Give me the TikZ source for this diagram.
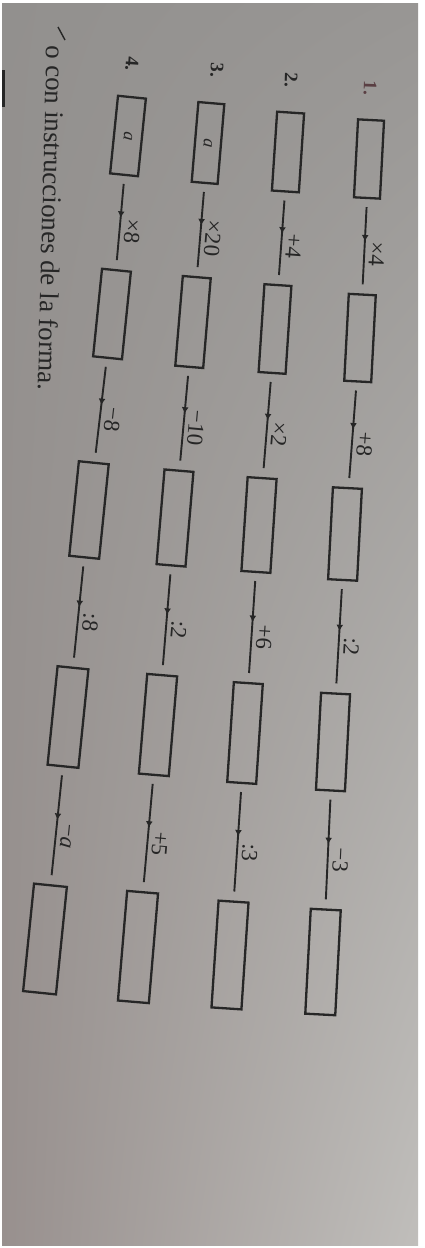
\documentclass[tikz,border=0pt]{standalone}
\usepackage{fontspec}
\setmainfont{Liberation Serif}
\usetikzlibrary{arrows.meta,decorations.markings,shadings}
\definecolor{ink}{HTML}{262626}
\definecolor{numred}{HTML}{5A3F43}
\definecolor{bgUL}{RGB}{146,144,142}
\definecolor{bgUR}{RGB}{152,150,148}
\definecolor{bgLL}{RGB}{152,144,142}
\definecolor{bgLR}{RGB}{192,190,187}
\begin{document}
\begin{tikzpicture}[x=1pt,y=-1pt,
  cell/.style={draw=ink, line width=2.3pt, inner sep=0pt, font=\fontsize{18}{19}\selectfont\itshape, text=ink},
  op/.style={draw=ink, line width=1.9pt, shorten <=8pt, shorten >=9pt,
    postaction={decorate},
    decoration={markings, mark=at position 0.45 with {\arrow{Latex[length=6.5pt,width=7pt]}}}},
  lab/.style={pos=0.58, sloped, allow upside down, above=3pt, inner sep=1pt,
    font=\fontsize{23}{24}\selectfont, text=ink},
  rownum/.style={font=\fontsize{19}{20}\selectfont\bfseries, text=ink, inner sep=0pt}]

% background: photographed page
\useasboundingbox (0,0) rectangle (425,1248);
\fill[white] (0,0) rectangle (425,1248);
\shade[upper left=bgUL, upper right=bgUR, lower left=bgLL, lower right=bgLR]
  (2,3) rectangle (418,1245);
\fill[ink] (1.5,70) rectangle (5,107);
\draw[ink, line width=1.4pt] (58,27) -- (65,40);

% instruction text
\node[rotate=-91.5, anchor=base west, inner sep=0pt, text=ink,
      font=\fontsize{27}{29}\selectfont] (instr) at (47,45) {o con instrucciones de la forma.};

% row numbers
\node[rownum, text=numred, rotate=-92] (n1) at (370,88) {1.};
\node[rownum, rotate=-92] (n2) at (291,80) {2.};
\node[rownum, rotate=-93] (n3) at (217,70) {3.};
\node[rownum, rotate=-94] (n4) at (132,64) {4.};

% row 1
\node[cell, rotate=-93, minimum width=78pt, minimum height=26pt] (b11) at (369,159) {};
\node[cell, rotate=-93, minimum width=87pt, minimum height=27pt] (b12) at (360,338) {};
\node[cell, rotate=-93, minimum width=92pt, minimum height=29pt] (b13) at (345,534) {};
\node[cell, rotate=-93, minimum width=97pt, minimum height=29pt] (b14) at (333,742) {};
\node[cell, rotate=-93, minimum width=105pt, minimum height=30pt] (b15) at (323,962) {};
% row 2
\node[cell, rotate=-93.8, minimum width=79pt, minimum height=27pt] (b21) at (288,152) {};
\node[cell, rotate=-93.8, minimum width=88pt, minimum height=27pt] (b22) at (275,329) {};
\node[cell, rotate=-93.8, minimum width=94pt, minimum height=29pt] (b23) at (259,525) {};
\node[cell, rotate=-93.8, minimum width=100pt, minimum height=29pt] (b24) at (245,733) {};
\node[cell, rotate=-93.8, minimum width=107pt, minimum height=30pt] (b25) at (230,955) {};
% row 3
\node[cell, rotate=-94.8, minimum width=80pt, minimum height=26pt] (b31) at (208,143) {a};
\node[cell, rotate=-94.8, minimum width=90pt, minimum height=28pt] (b32) at (193,322) {};
\node[cell, rotate=-94.8, minimum width=95pt, minimum height=29pt] (b33) at (175,518) {};
\node[cell, rotate=-94.8, minimum width=100pt, minimum height=30pt] (b34) at (158,725) {};
\node[cell, rotate=-94.8, minimum width=110pt, minimum height=31pt] (b35) at (138,947) {};
% row 4
\node[cell, rotate=-95.8, minimum width=78pt, minimum height=28pt] (b41) at (128,136) {a};
\node[cell, rotate=-95.8, minimum width=88pt, minimum height=29pt] (b42) at (112,314) {};
\node[cell, rotate=-95.8, minimum width=95pt, minimum height=30pt] (b43) at (89,510) {};
\node[cell, rotate=-95.8, minimum width=99pt, minimum height=31pt] (b44) at (68,717) {};
\node[cell, rotate=-95.8, minimum width=108pt, minimum height=33pt] (b45) at (45,939) {};

% connectors with operations
\draw[op] (b11) -- node[lab] {×4} (b12);
\draw[op] (b12) -- node[lab] {+8} (b13);
\draw[op] (b13) -- node[lab] {:2} (b14);
\draw[op] (b14) -- node[lab] {−3} (b15);

\draw[op] (b21) -- node[lab] {+4} (b22);
\draw[op] (b22) -- node[lab] {×2} (b23);
\draw[op] (b23) -- node[lab] {+6} (b24);
\draw[op] (b24) -- node[lab] {:3} (b25);

\draw[op] (b31) -- node[lab] {×20} (b32);
\draw[op] (b32) -- node[lab] {−10} (b33);
\draw[op] (b33) -- node[lab] {:2} (b34);
\draw[op] (b34) -- node[lab] {+5} (b35);

\draw[op] (b41) -- node[lab] {×8} (b42);
\draw[op] (b42) -- node[lab] {−8} (b43);
\draw[op] (b43) -- node[lab] {:8} (b44);
\draw[op] (b44) -- node[lab] {−\textit{a}} (b45);
\end{tikzpicture}
\end{document}
